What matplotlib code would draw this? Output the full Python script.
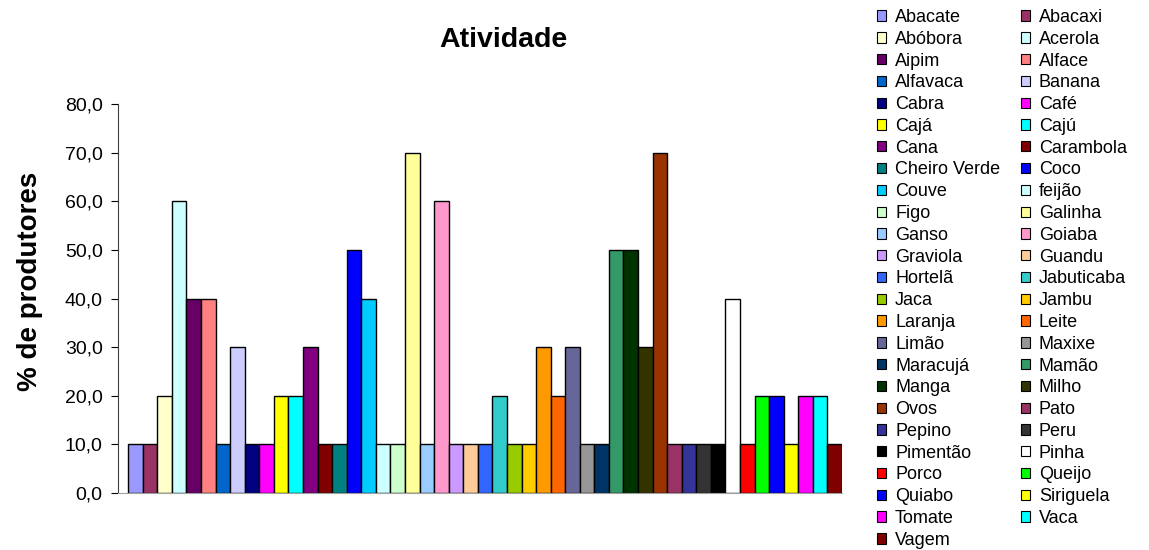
import matplotlib
matplotlib.use("Agg")
import matplotlib.pyplot as plt
from matplotlib.patches import Patch
from matplotlib.ticker import FuncFormatter, MultipleLocator
from matplotlib.transforms import Bbox

plt.rcParams['font.family'] = ['Liberation Sans', 'DejaVu Sans']

categories = ["Abacate", "Abacaxi", "Abóbora", "Acerola", "Aipim", "Alface",
              "Alfavaca", "Banana", "Cabra", "Café", "Cajá", "Cajú", "Cana",
              "Carambola", "Cheiro Verde", "Coco", "Couve", "feijão", "Figo",
              "Galinha", "Ganso", "Goiaba", "Graviola", "Guandu", "Hortelã",
              "Jabuticaba", "Jaca", "Jambu", "Laranja", "Leite", "Limão",
              "Maxixe", "Maracujá", "Mamão", "Manga", "Milho", "Ovos", "Pato",
              "Pepino", "Peru", "Pimentão", "Pinha", "Porco", "Queijo",
              "Quiabo", "Siriguela", "Tomate", "Vaca", "Vagem"]

values = [10, 10, 20, 60, 40, 40, 10, 30, 10, 10, 20, 20, 30, 10, 10, 50, 40,
          10, 10, 70, 10, 60, 10, 10, 10, 20, 10, 10, 30, 20, 30, 10, 10, 50,
          50, 30, 70, 10, 10, 10, 10, 40, 10, 20, 20, 10, 20, 20, 10]

colors = ["#9999FF", "#993366", "#FFFFCC", "#CCFFFF", "#660066", "#FF8080",
          "#0066CC", "#CCCCFF", "#000080", "#FF00FF", "#FFFF00", "#00FFFF",
          "#800080", "#800000", "#008080", "#0000FF", "#00CCFF", "#CCFFFF",
          "#CCFFCC", "#FFFF99", "#99CCFF", "#FF99CC", "#CC99FF", "#FFCC99",
          "#3366FF", "#33CCCC", "#99CC00", "#FFCC00", "#FF9900", "#FF6600",
          "#666699", "#969696", "#003366", "#339966", "#003300", "#333300",
          "#993300", "#993366", "#333399", "#333333", "#000000", "#FFFFFF",
          "#FF0000", "#00FF00", "#0000FF", "#FFFF00", "#FF00FF", "#00FFFF",
          "#800000"]

W, H = 1149, 550
fig = plt.figure(figsize=(W / 100, H / 100), dpi=100)
ax = fig.add_axes([118 / W, (H - 493) / H, (842 - 118) / W, (493 - 104) / H])

x = list(range(len(categories)))
ax.bar(x, values, width=1.0, color=colors, edgecolor="black", linewidth=1.0)

ax.set_xlim(-1.2, 48.5)
ax.set_ylim(0, 80)
ax.yaxis.set_major_locator(MultipleLocator(10))
ax.yaxis.set_major_formatter(FuncFormatter(lambda v, p: f"{v:.1f}".replace(".", ",")))
ax.tick_params(axis="y", direction="out", length=5, width=0.8, labelsize=14, pad=6,
               colors="black")
ax.set_xticks([])
for s in ["top", "right"]:
    ax.spines[s].set_visible(False)
ax.spines["left"].set_color("#404040")
ax.spines["bottom"].set_color("#a0a0a0")

fig.text(30 / W, (H - 281) / H, "% de produtores", rotation=90, ha="center",
         va="center", fontsize=20, fontweight="bold")

# the title is cut off at the bottom in the reference
title = fig.text(503 / W, (H - 47) / H, "Atividade", ha="center", va="baseline",
                 fontsize=20.5, fontweight="bold")
title.set_clip_box(Bbox.from_extents(0, H - 47, W, H))
title.set_clip_on(True)

# legend is filled row by row in the reference
order = list(range(0, len(categories), 2)) + list(range(1, len(categories), 2))
handles = [Patch(facecolor=colors[i], edgecolor="black", linewidth=0.8,
                 label=categories[i]) for i in order]
fig.legend(handles=handles, loc="upper left", bbox_to_anchor=(877 / W, 1 - 9 / H),
           ncol=2, frameon=False, fontsize=13, handlelength=0.5,
           handleheight=0.5, handletextpad=0.5, columnspacing=1.15,
           labelspacing=0.265, borderaxespad=0, borderpad=0)

fig.savefig("out.png", dpi=100)
